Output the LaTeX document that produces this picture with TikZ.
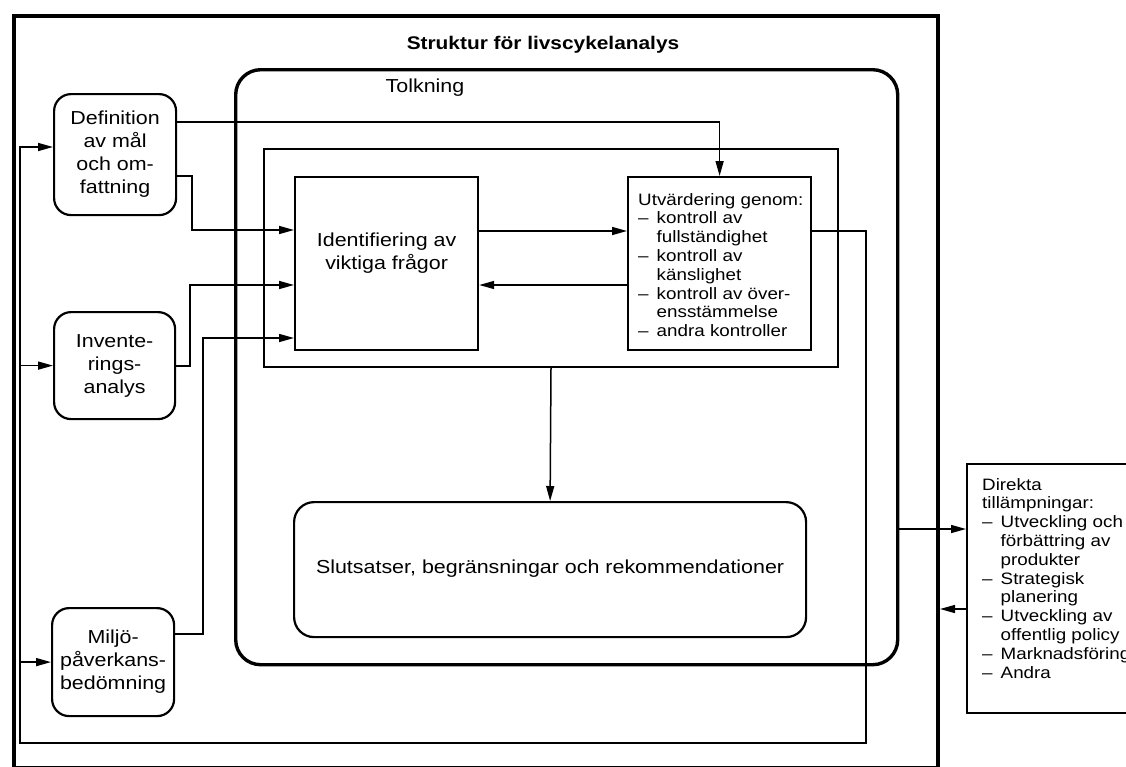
\documentclass[tikz,border=0pt]{standalone}
\usepackage{fontspec}
\setmainfont[FakeStretch=1.14]{Liberation Sans}
\usetikzlibrary{arrows.meta}
% dash and hanging indent for the item lists
\newcommand\lcadash{\makebox[18.5pt][l]{–}}
\newcommand\lcaindent{\hspace*{18.5pt}}
\begin{document}
\begin{tikzpicture}[x=1pt,y=-1pt,
  every node/.style={inner sep=0pt},
  bigtxt/.style={font=\fontsize{18.8}{23}\selectfont},
  smalltxt/.style={font=\fontsize{16.5}{18.8}\selectfont, align=left, anchor=north west},
  box/.style={draw, line width=2.2pt, anchor=north west},
  stagebox/.style={box, rounded corners=17pt, align=center, bigtxt},
  conn/.style={line width=1.5pt},
  arr/.style={conn, -{Triangle[length=15pt,width=8pt]}},
]
\useasboundingbox (0,0) rectangle (1126,766);
\fill[white] (0,0) rectangle (1126,766);

% outer frame and title
\node[box, line width=4pt, minimum width=924pt, minimum height=752pt] (frame) at (12,14) {};
\node[font=\bfseries\fontsize{18.3}{22}\selectfont] (title) at (543,45) {Struktur för livscykelanalys};

% interpretation phase
\node[box, line width=3.4pt, rounded corners=25pt, minimum width=662pt, minimum height=595pt] (tolk) at (234,68) {};
\node[bigtxt] (tolktext) at (425,88) {Tolkning};
\node[box, line width=2pt, minimum width=574pt, minimum height=218pt] (inner) at (263,148) {};
\node[box, minimum width=183pt, minimum height=173pt] (id) at (294,176) {};
\node[bigtxt, align=center, yshift=10pt] (idtext) at (id.center) {Identifiering av\\viktiga frågor};
\node[box, minimum width=183pt, minimum height=173pt] (utv) at (627,176) {};
\node[smalltxt] (utvtext) at (638,193) {Utvärdering genom:\\
  \lcadash kontroll av\\ \lcaindent fullständighet\\
  \lcadash kontroll av\\ \lcaindent känslighet\\
  \lcadash kontroll av över-\\ \lcaindent ensstämmelse\\
  \lcadash andra kontroller};
\node[box, rounded corners=20pt, minimum width=512pt, minimum height=135pt, bigtxt] (slut) at (293,501)
  {\raisebox{6pt}{Slutsatser, begränsningar och rekommendationer}};

% LCA phases on the left
\node[stagebox, minimum width=122pt, minimum height=121pt] (def) at (53,93) {Definition\\av mål\\och om-\\fattning};
\node[stagebox, minimum width=121pt, minimum height=107pt] (inv) at (53,311) {Invente-\\rings-\\analys};
\node[stagebox, minimum width=122pt, minimum height=108pt] (milj) at (51,607) {Miljö-\\påverkans-\\bedömning};

% applications
\node[box, line width=1.8pt, minimum width=180pt, minimum height=249pt] (direkta) at (966,463) {};
\node[smalltxt] (direktatext) at (982,478) {Direkta\\tillämpningar:\\
  \lcadash Utveckling och\\ \lcaindent förbättring av\\ \lcaindent produkter\\
  \lcadash Strategisk\\ \lcaindent planering\\
  \lcadash Utveckling av\\ \lcaindent offentlig policy\\
  \lcadash Marknadsföring\\
  \lcadash Andra};

% routing points
\coordinate (fbturn) at (866,743);
\coordinate (fbleft) at (20,743);
\coordinate (defjog) at (192,176);
\coordinate (invjog) at (190,366);
\coordinate (miljjog) at (203,634);

% connectors
\draw[arr] (def.east |- 0,122) -| (utv.north);
\draw[arr] (def.east |- defjog) -- (defjog) |- (id.west |- 0,230);
\draw[arr] (inv.east |- invjog) -- (invjog) |- (id.west |- 0,285);
\draw[arr] (milj.east |- miljjog) -- (miljjog) |- (id.west |- 0,338);
\draw[arr] (id.east |- 0,231) -- (utv.west |- 0,231);
\draw[arr] (utv.west |- 0,285) -- (id.east |- 0,285);
\draw[arr] (inner.south) -- (slut.north);
\draw[arr] (utv.east |- 0,231) -| (fbturn) -- (fbleft) |- (def.west |- 0,147);
\draw[arr] (fbleft |- inv.west) -- (inv.west);
\draw[arr] (fbleft |- milj.west) -- (milj.west);
\draw[arr] (tolk.east |- 0,529) -- (direkta.west |- 0,529);
\draw[arr] (direkta.west |- 0,609) -- (frame.east |- 0,609);
\end{tikzpicture}
\end{document}
